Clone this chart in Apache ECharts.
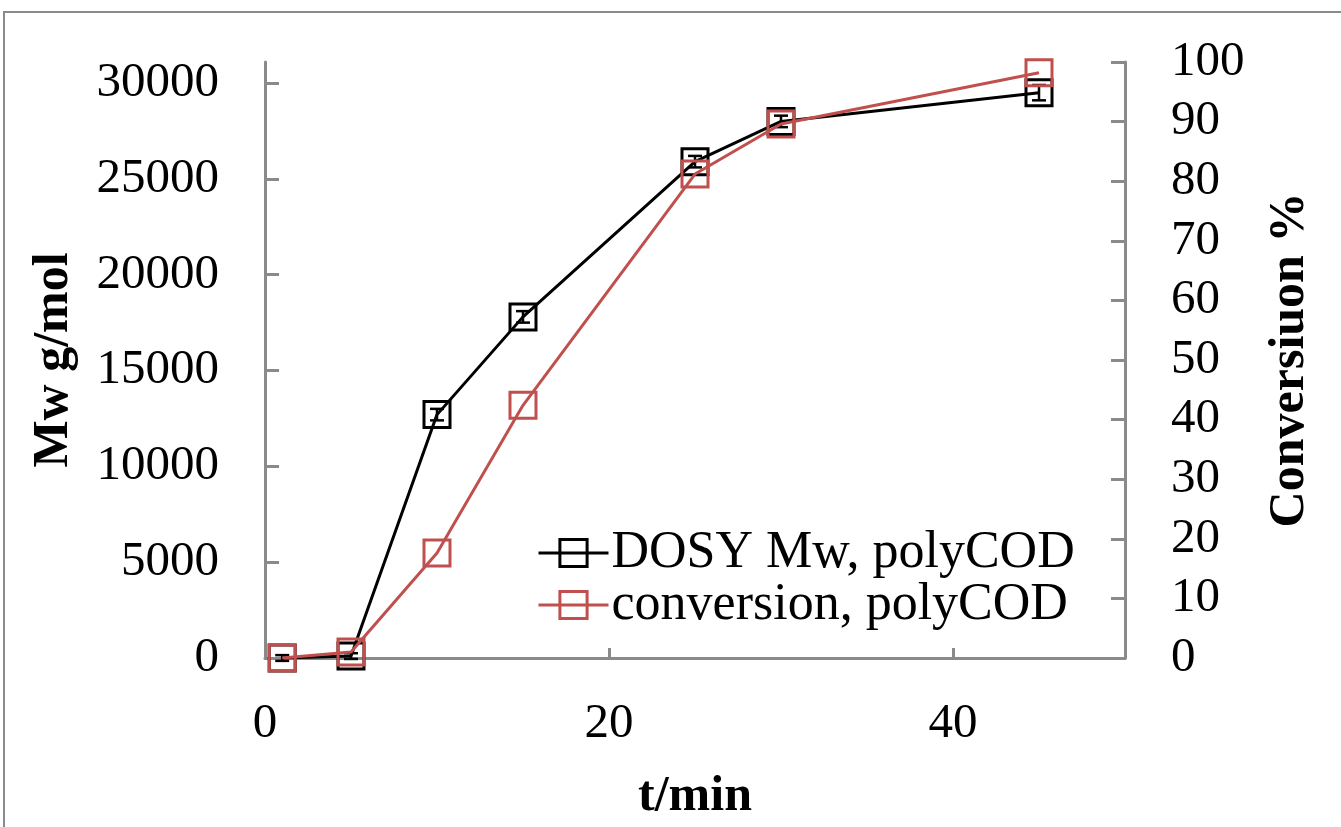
<!DOCTYPE html>
<html>
<head>
<meta charset="utf-8">
<script src="https://cdn.jsdelivr.net/npm/echarts@6/dist/echarts.min.js"></script>
<style>
html,body{margin:0;padding:0;background:#fff;overflow:hidden;}
#frame{position:absolute;left:3px;top:11px;width:1400px;height:900px;border-left:2px solid #8a8a8a;border-top:2px solid #8a8a8a;box-sizing:border-box;}
#chart{position:absolute;left:0;top:0;width:1341px;height:827px;}
</style>
</head>
<body>
<div id="frame"></div>
<div id="chart"></div>
<script>
// Data
const timeMin = [1, 5, 10, 15, 25, 30, 45];
const mwDosy = [0, 100, 12700, 17800, 25900, 28000, 29500];
const mwError = [150, 150, 300, 300, 300, 300, 400];
const conversion = [0, 1, 17.6, 42.4, 81.2, 89.6, 98.2];
const xTickValues = [0, 20, 40];
const leftTickValues = [0, 5000, 10000, 15000, 20000, 25000, 30000];
const rightTickValues = [0, 10, 20, 30, 40, 50, 60, 70, 80, 90, 100];
const seriesNames = ['DOSY Mw, polyCOD', 'conversion, polyCOD'];

const FONT = '"Liberation Serif", "Times New Roman", serif';
const axisGrey = '#8a8a8a';
const redColor = '#c0504d';

const chart = echarts.init(document.getElementById('chart'), null, {renderer: 'canvas'});

const mwData = timeMin.map((t, i) => [t, mwDosy[i]]);
const convData = timeMin.map((t, i) => [t, conversion[i]]);
const errData = timeMin.map((t, i) => [t, mwDosy[i], mwError[i]]);

const labelStyle = {color: '#000', fontFamily: FONT, fontSize: 49, formatter: v => String(v)};
const nameStyle = {color: '#000', fontFamily: FONT, fontSize: 50, fontWeight: 'bold'};

chart.setOption({
  animation: false,
  backgroundColor: 'transparent',
  grid: {left: 265, right: 216, top: 62, bottom: 168, containLabel: false},
  legend: {
    orient: 'vertical',
    left: 532,
    top: 522,
    itemWidth: 70,
    itemHeight: 34,
    itemGap: 0,
    data: seriesNames,
    lineStyle: {width: 3},
    itemStyle: {borderWidth: 3},
    textStyle: {color: '#000', fontFamily: FONT, fontSize: 52, lineHeight: 52, padding: [0, 0, 0, -2]}
  },
  xAxis: {
    type: 'value',
    min: 0,
    max: 50,
    interval: 10,
    name: 't/min',
    nameLocation: 'middle',
    nameGap: 114,
    nameTextStyle: nameStyle,
    axisLine: {show: true, onZero: false, lineStyle: {color: axisGrey, width: 3}},
    axisTick: {show: true, inside: true, length: 10, lineStyle: {color: axisGrey, width: 3}, customValues: xTickValues},
    axisLabel: Object.assign({margin: 42, customValues: xTickValues}, labelStyle),
    splitLine: {show: false}
  },
  yAxis: [
    {
      type: 'value',
      min: 0,
      max: 31100,
      interval: 5000,
      name: 'Mw g/mol',
      nameLocation: 'middle',
      nameRotate: 90,
      nameGap: 186,
      nameTextStyle: nameStyle,
      axisLine: {show: true, lineStyle: {color: axisGrey, width: 3}},
      axisTick: {show: true, inside: true, length: 14, lineStyle: {color: axisGrey, width: 3}, customValues: leftTickValues},
      axisLabel: Object.assign({margin: 46, customValues: leftTickValues}, labelStyle),
      splitLine: {show: false}
    },
    {
      type: 'value',
      min: 0,
      max: 100,
      interval: 10,
      position: 'right',
      name: 'Conversiuon %',
      nameLocation: 'middle',
      nameRotate: 90,
      nameGap: 140,
      nameTextStyle: nameStyle,
      axisLine: {show: true, lineStyle: {color: axisGrey, width: 3}},
      axisTick: {show: true, inside: true, length: 14, lineStyle: {color: axisGrey, width: 3}, customValues: rightTickValues},
      axisLabel: Object.assign({margin: 46, customValues: rightTickValues}, labelStyle),
      splitLine: {show: false}
    }
  ],
  series: [
    {
      name: seriesNames[0],
      type: 'line',
      yAxisIndex: 0,
      data: mwData,
      symbol: 'rect',
      symbolSize: 26,
      lineStyle: {color: '#000', width: 3},
      itemStyle: {color: 'rgba(255,255,255,0)', borderColor: '#000', borderWidth: 3},
      z: 2
    },
    {
      name: 'err',
      type: 'custom',
      yAxisIndex: 0,
      data: errData,
      z: 3,
      renderItem: function (params, api) {
        const x = api.value(0), y = api.value(1), e = api.value(2);
        const hi = api.coord([x, y + e]);
        const lo = api.coord([x, y - e]);
        const w = 7;
        const st = {stroke: '#000', lineWidth: 2.5, fill: null};
        return {
          type: 'group',
          children: [
            {type: 'line', shape: {x1: hi[0], y1: hi[1], x2: lo[0], y2: lo[1]}, style: st},
            {type: 'line', shape: {x1: hi[0] - w, y1: hi[1], x2: hi[0] + w, y2: hi[1]}, style: st},
            {type: 'line', shape: {x1: lo[0] - w, y1: lo[1], x2: lo[0] + w, y2: lo[1]}, style: st}
          ]
        };
      },
      encode: {x: 0, y: 1}
    },
    {
      name: seriesNames[1],
      type: 'line',
      yAxisIndex: 1,
      data: convData,
      symbol: 'rect',
      symbolSize: 26,
      lineStyle: {color: redColor, width: 3},
      itemStyle: {color: 'rgba(255,255,255,0)', borderColor: redColor, borderWidth: 3},
      z: 4
    }
  ]
});
</script>
</body>
</html>
